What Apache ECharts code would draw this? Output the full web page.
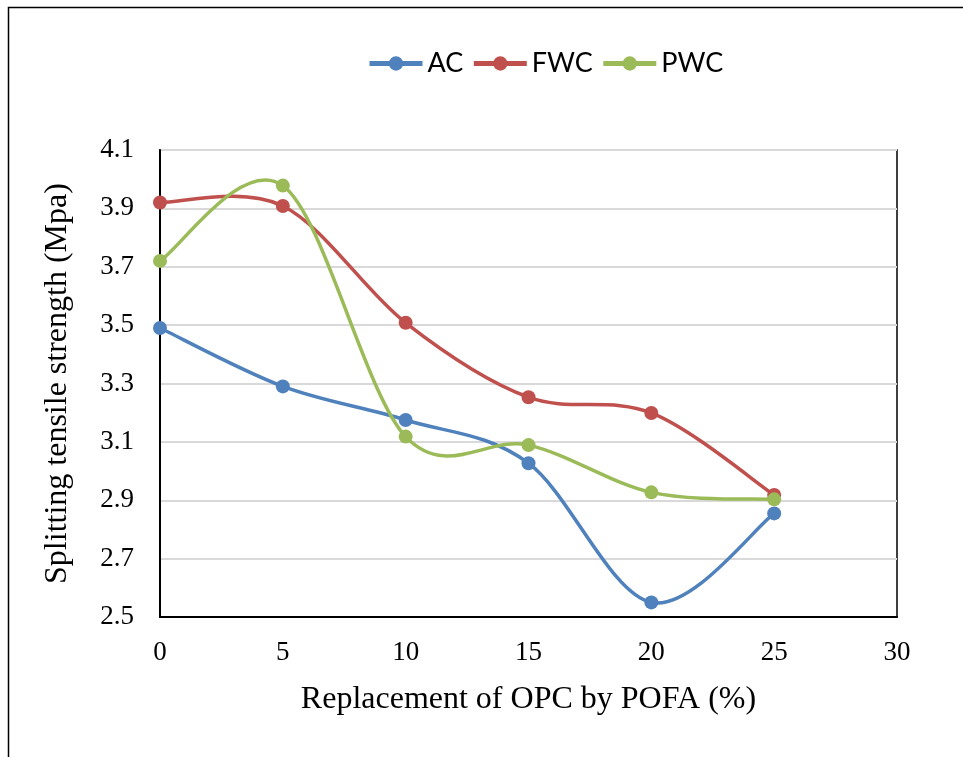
<!DOCTYPE html>
<html><head><meta charset="utf-8">
<script src="https://cdn.jsdelivr.net/npm/echarts@6/dist/echarts.min.js"></script>
<style>html,body{margin:0;padding:0;background:#fff}#c{width:963px;height:757px}</style>
</head><body><div id="c"></div>
<script>
var replacement = [0, 5, 10, 15, 20, 25];
var acValues  = [3.49, 3.29, 3.175, 3.027, 2.55, 2.855];
var fwcValues = [3.92, 3.908, 3.508, 3.253, 3.199, 2.918];
var pwcValues = [3.72, 3.978, 3.118, 3.089, 2.927, 2.903];
var seriesNames = ['AC', 'FWC', 'PWC'];
var seriesColors = ['#4F81BD', '#C0504D', '#9BBB59'];
var xTitle = 'Replacement of OPC by POFA (%)';
var yTitle = 'Splitting tensile strength (Mpa)';

function pairs(vals){ return replacement.map(function(x,i){ return [x, vals[i]]; }); }
var all = [acValues, fwcValues, pwcValues];

// Excel-style smoothed segment through the library's coordinate system
function makeRender(vals, color){
  return function(params, api){
    var i = api.value(0);
    var n = replacement.length;
    function P(k){ k = Math.max(0, Math.min(n-1, k)); return api.coord([replacement[k], vals[k]]); }
    var p0 = P(i-1), p1 = P(i), p2 = P(i+1), p3 = P(i+2);
    var c1 = [p1[0] + (p2[0]-p0[0])/6, p1[1] + (p2[1]-p0[1])/6];
    var c2 = [p2[0] - (p3[0]-p1[0])/6, p2[1] - (p3[1]-p1[1])/6];
    return {
      type: 'bezierCurve',
      shape: {x1:p1[0], y1:p1[1], x2:p2[0], y2:p2[1], cpx1:c1[0], cpy1:c1[1], cpx2:c2[0], cpy2:c2[1]},
      style: {stroke: color, lineWidth: 3.5, fill: null, lineCap: 'round'}
    };
  };
}

var chart = echarts.init(document.getElementById('c'));
var serif = '"Liberation Serif", "Times New Roman", serif';
var series = [];
seriesNames.forEach(function(n, i){
  series.push({
    name: n, type: 'line', z: 3,
    data: pairs(all[i]),
    symbol: 'circle', symbolSize: 14,
    lineStyle: {color: seriesColors[i], width: 3.5, opacity: 0},
    itemStyle: {color: seriesColors[i]}
  });
});
seriesNames.forEach(function(n, i){
  series.push({
    name: n, type: 'custom', z: 2,
    renderItem: makeRender(all[i], seriesColors[i]),
    data: replacement.slice(0, -1).map(function(_, k){ return [k]; }),
    encode: {x: -1, y: -1},
    itemStyle: {color: seriesColors[i]},
    silent: true
  });
});

chart.setOption({
  animation: false,
  backgroundColor: '#fff',
  graphic: [{type:'rect', left:6, top:5, shape:{x:0,y:0,width:1000,height:800}, style:{fill:'none', stroke:'#000', lineWidth:1.5}}],
  legend: {
    top: 45, left: 362,
    itemWidth: 53, itemHeight: 18, itemGap: 8,
    lineStyle: {width: 5, opacity: 1},
    textStyle: {fontFamily: 'Lato, "Noto Sans", sans-serif', fontSize: 27, color: '#000', padding: [0,0,0,0]},
    data: seriesNames
  },
  grid: {left: 160, right: 66, top: 150, bottom: 140, show: true, borderColor: '#000', borderWidth: 1.5, backgroundColor: 'transparent'},
  xAxis: {
    type: 'value', min: 0, max: 30, interval: 5,
    name: xTitle, nameLocation: 'middle', nameGap: 67,
    nameTextStyle: {fontFamily: serif, fontSize: 32, color: '#000'},
    axisLine: {show: true, lineStyle: {color: '#000', width: 2}},
    axisTick: {show: false},
    splitLine: {show: false},
    axisLabel: {fontFamily: serif, fontSize: 27, color: '#000', margin: 22}
  },
  yAxis: {
    type: 'value', min: 2.5, max: 4.1, interval: 0.2,
    name: yTitle, nameLocation: 'middle', nameGap: 86,
    nameTextStyle: {fontFamily: serif, fontSize: 32, color: '#000'},
    axisLine: {show: true, lineStyle: {color: '#000', width: 2}},
    axisTick: {show: false},
    splitLine: {show: true, lineStyle: {color: '#d9d9d9', width: 2}},
    axisLabel: {fontFamily: serif, fontSize: 27, color: '#000', margin: 26,
      formatter: function(v){ return v.toFixed(1); }}
  },
  series: series
});
</script></body></html>
